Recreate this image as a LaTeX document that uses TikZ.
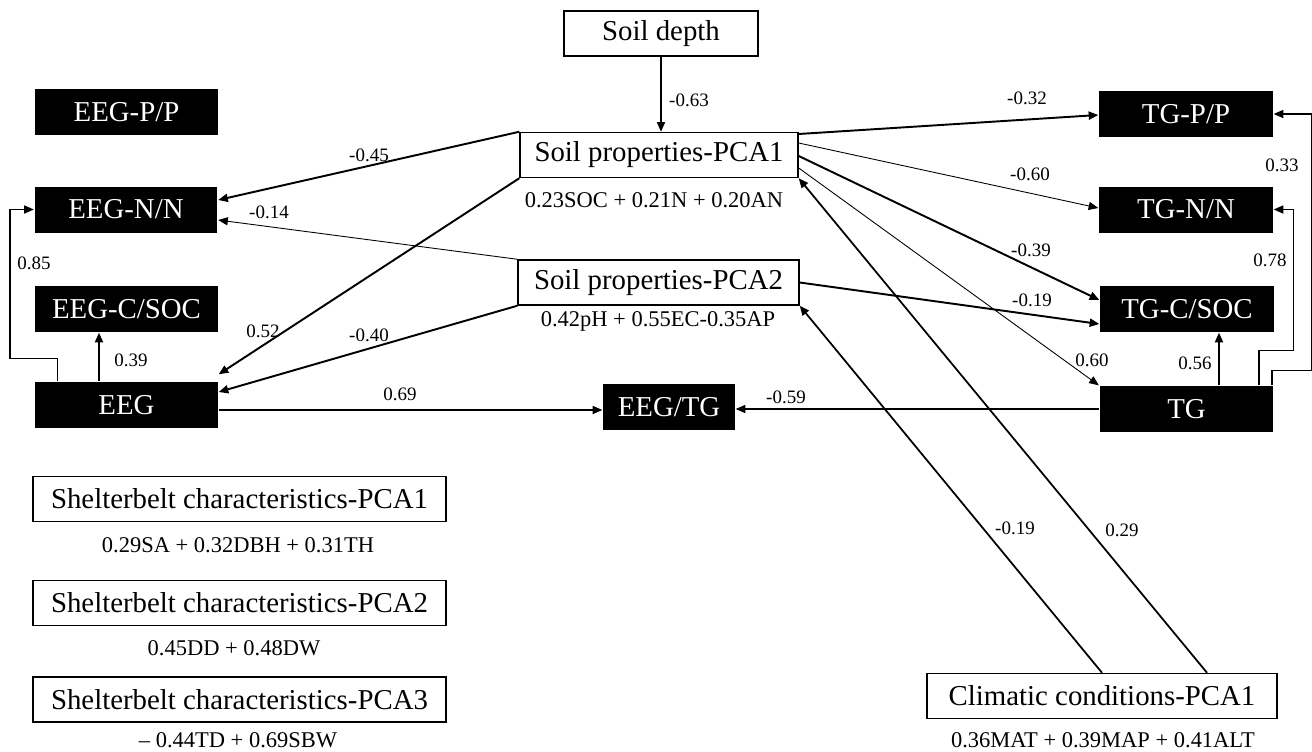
\documentclass[tikz,border=0pt]{standalone}
\usepackage{fontspec}
\setmainfont{Liberation Serif}
\usetikzlibrary{arrows.meta,calc}

\begin{document}
\begin{tikzpicture}[x=0.02cm, y=-0.02cm,
    every path/.style = {line width=0.8pt},
    >={Triangle[length=5.5pt,width=4.6pt]},
    whitebox/.style = {draw, line width=0.85pt, inner sep=0pt,
        minimum height=0.9cm, font=\fontsize{16.4}{18}\selectfont},
    blackbox/.style = {fill=black, text=white, inner sep=0pt,
        minimum height=0.92cm, font=\fontsize{16.4}{18}\selectfont},
    formula/.style = {font=\fontsize{12.8}{14}\selectfont},
    coef/.style = {font=\fontsize{10.8}{12}\selectfont},
    strong/.style = {line width=1.1pt},
    weak/.style = {line width=0.5pt}
]
    \useasboundingbox (0,0) rectangle (1312,751);

    % Soil boxes in the middle.
    \node[whitebox, minimum width=3.88cm] (depth) at (661,33.5) {Soil depth};
    \node[whitebox, minimum width=5.56cm] (soil1) at (659,155) {Soil properties-PCA1};
    \node[formula] (soil1f) at (654,200) {0.23SOC + 0.21N + 0.20AN};
    \node[whitebox, minimum width=5.62cm] (soil2) at (658.5,282.5) {Soil properties-PCA2};
    \node[formula] (soil2f) at (658,321) {0.42pH + 0.55EC-0.35AP};

    % EEG column.
    \node[blackbox, minimum width=3.66cm] (eegP) at (126.5,112) {EEG-P/P};
    \node[blackbox, minimum width=3.66cm] (eegN) at (126,209.5) {EEG-N/N};
    \node[blackbox, minimum width=3.66cm] (eegC) at (126.5,309) {EEG-C/SOC};
    \node[blackbox, minimum width=3.66cm] (eeg) at (126.5,405) {EEG};
    \node[blackbox, minimum width=2.64cm] (ratio) at (669,407) {EEG/TG};

    % TG column.
    \node[blackbox, minimum width=3.48cm] (tgP) at (1186,114) {TG-P/P};
    \node[blackbox, minimum width=3.48cm] (tgN) at (1186,209.5) {TG-N/N};
    \node[blackbox, minimum width=3.48cm] (tgC) at (1187,309) {TG-C/SOC};
    \node[blackbox, minimum width=3.48cm] (tg) at (1186.5,409) {TG};

    % Shelterbelt and climate boxes.
    \node[whitebox, minimum width=8.26cm] (shelt1) at (239.5,499) {Shelterbelt characteristics-PCA1};
    \node[formula] (shelt1f) at (238,545) {0.29SA + 0.32DBH + 0.31TH};
    \node[whitebox, minimum width=8.26cm] (shelt2) at (239.5,603) {Shelterbelt characteristics-PCA2};
    \node[formula] (shelt2f) at (234,648) {0.45DD + 0.48DW};
    \node[whitebox, minimum width=8.26cm] (shelt3) at (239.5,699.5) {Shelterbelt characteristics-PCA3};
    \node[formula] (shelt3f) at (238,740.5) {– 0.44TD + 0.69SBW};
    \node[whitebox, minimum width=7cm] (clim) at (1102,696) {Climatic conditions-PCA1};
    \node[formula] (climf) at (1103,740.5) {0.36MAT + 0.39MAP + 0.41ALT};

    % Soil depth.
    \draw[->] (depth.south) -- (depth.south |- soil1.north)
        node[coef] (wDepth) at (689,100) {-0.63};

    % Soil properties to the EEG side.
    \draw[->, strong] (soil1.north west) -- ($(eegN.east)+(0,-9.5)$)
        node[coef] (wS1N) at (369,155) {-0.45};
    \draw[->, strong] (soil1.south west) -- ($(eeg.north east)+(0,-7)$)
        node[coef] (wS1E) at (263,331) {0.52};
    \draw[->, weak] (soil2.north west) -- ($(eegN.east)+(0,10.5)$)
        node[coef] (wS2N) at (269,212) {-0.14};
    \draw[->, strong] (soil2.south west) -- ($(eeg.east)+(0,-13)$)
        node[coef] (wS2E) at (369,335) {-0.40};

    % Soil properties to the TG side.
    \draw[->, strong] ($(soil1.east)+(0,-21)$) -- ($(tgP.west)+(0,1)$)
        node[coef] (wS1P) at (1027,98) {-0.32};
    \draw[->, weak] ($(soil1.east)+(0,-12)$) -- ($(tgN.west)+(0,-1.5)$)
        node[coef] (wS1TN) at (1030,174) {-0.60};
    \draw[->, strong] ($(soil1.east)+(0,1)$) -- ($(tgC.west)+(0,-9)$)
        node[coef] (wS1TC) at (1031,250) {-0.39};
    \draw[->, weak] ($(soil1.east)+(0,13)$) -- (tg.north west)
        node[coef] (wS1T) at (1092,360) {0.60};
    \draw[->, strong] (soil2.east) -- ($(tgC.west)+(0,15)$)
        node[coef] (wS2TC) at (1032,300) {-0.19};

    % EEG paths.
    \coordinate (ratioIn) at ($(ratio.west)+(0,3)$);
    \draw[->] (eeg.east |- ratioIn) -- (ratioIn)
        node[coef] (wRatioE) at (400,394) {0.69};
    \draw[->, strong] ($(eeg.north)+(-27.5,0)$) -- ($(eegC.south)+(-27.5,0)$)
        node[coef] (wEC) at (131,360) {0.39};
    \draw[->] ($(eeg.north west)+(23,0)$) -- ++(0,-23) -| ($(eegN.west)+(-24,0)$) -- (eegN.west)
        node[coef] (wEN) at (34,263) {0.85};

    % TG paths.
    \draw[->] (tg.west) -- (ratio.east |- tg.west)
        node[coef] (wRatioT) at (786,397) {-0.59};
    \draw[->, strong] ($(tg.north)+(32.5,0)$) coordinate (tgUp) -- (tgUp |- tgC.south)
        node[coef] (wTC) at (1195,363) {0.56};
    \draw[->] ($(tg.north east)+(-15,0)$) -- ++(0,-35) -| ($(tgN.east)+(20,0)$) -- (tgN.east)
        node[coef] (wTN) at (1270,260) {0.78};
    \draw[->] ($(tg.north east)+(-2,0)$) -- ++(0,-15) -| ($(tgP.east)+(38,0)$) -- (tgP.east)
        node[coef] (wTP) at (1282,165) {0.33};

    % Climate.
    \draw[->, line width=1pt] (clim.north) -- (soil2.south east)
        node[coef] (wC2) at (1015,528) {-0.19};
    \draw[->, line width=1pt] ($(clim.north)+(105,0)$) -- (soil1.south east)
        node[coef] (wC1) at (1122,530) {0.29};
\end{tikzpicture}
\end{document}
